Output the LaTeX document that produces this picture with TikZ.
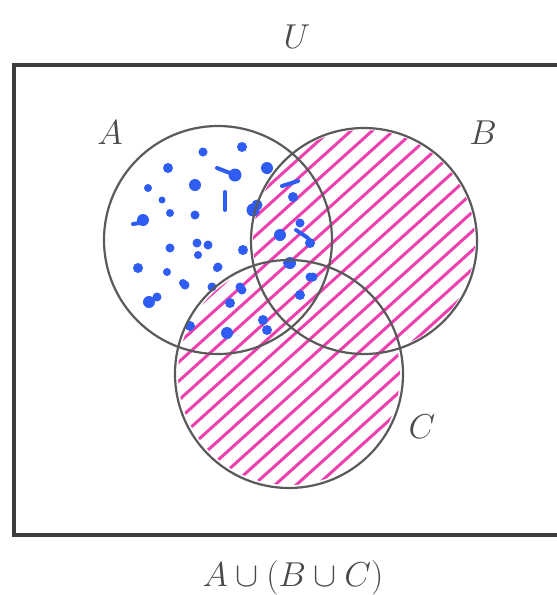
\documentclass[tikz,border=0pt]{standalone}
\usepackage{xcolor}
\usepackage{tikz}
\usetikzlibrary{positioning,calc}
\definecolor{frame}{HTML}{3C3C3C}
\definecolor{ring}{HTML}{5A5A5A}
\definecolor{labelgrey}{HTML}{4A4A4A}
\definecolor{hatchpink}{HTML}{EE3FAE}
\definecolor{dotblue}{HTML}{2F5CF2}

\begin{document}
\begin{tikzpicture}[x=0.5pt,y=-0.5pt,
    setline/.style={draw=ring, line width=1.1pt},
    setlabel/.style={text=labelgrey, font=\fontsize{17}{20}\selectfont},
    hatch/.style={draw=hatchpink, line width=1.5pt, line cap=round},
    dot/.style={fill=dotblue},
    dotstroke/.style={draw=dotblue, line width=2pt, line cap=round}]
  \clip (0,0) rectangle (557,595);
  \fill[white] (0,0) rectangle (557,595);

  \coordinate (cA) at (218,240);
  \coordinate (cB) at (364,241);
  \coordinate (cC) at (289,374);

  % hatching of B and C
  \begin{scope}
    \clip (cB) circle[radius=111] (cC) circle[radius=111];
    \foreach \t in {-8,...,12}
      \draw[hatch] ($(290,300)+(\t*9.5,\t*10.5)+(-230,207)$) -- ($(290,300)+(\t*9.5,\t*10.5)+(230,-207)$);
  \end{scope}

  % dots of A
  \foreach \px/\py/\r in {203/152/4.5, 242/147/5, 168/168/5, 195/185/6, 148/188/4,
      162/200/3.5, 170/213/4, 143/220/6, 195/215/4.5, 197/243/4.5, 208/245/4.5,
      198/255/4, 170/248/4.5, 138/268/5, 167/272/4, 185/285/4.5, 217/268/4,
      243/250/5, 253/210/6.5, 267/168/6, 157/297/4.5, 149/302/6,
      190/326/5, 280/235/6, 293/197/5, 300/223/4.5, 310/243/5, 290/263/6,
      313/277/4.5, 240/287/4.5, 288/263/5, 310/277/4.5, 300/295/5, 242/290/4.5,
      230/303/5, 227/333/6, 263/320/5, 267/330/5, 183/283/4,
      212/287/4.5, 218/267/4.5, 235/175/6.5, 257/205/5.5}
    \fill[dot] (\px,\py) circle[radius=\r];
  \draw[dotstroke] (217,168) -- (235,175);
  \draw[dotstroke] (225,192) -- (225,210);
  \draw[dotstroke] (133,224) -- (146,222);
  \draw[dotstroke] (282,186) -- (298,181);
  \draw[dotstroke] (296,230) -- (308,238);

  % sets
  \draw[setline] (cA) circle[radius=114];
  \draw[setline] (cB) circle[radius=113];
  \draw[setline] (cC) circle[radius=114];
  \draw[draw=frame, line width=1.6pt] (14,65) rectangle (600,535);

  \node[setlabel] (labU) at (297,37) {$U$};
  \node[setlabel] (labA) at (110,133) {$A$};
  \node[setlabel] (labB) at (483,133) {$B$};
  \node[setlabel] (labC) at (422,427) {$C$};
  \node[setlabel] (labUnion) at (293,578) {$A\cup(B\cup C)$};
\end{tikzpicture}
\end{document}
